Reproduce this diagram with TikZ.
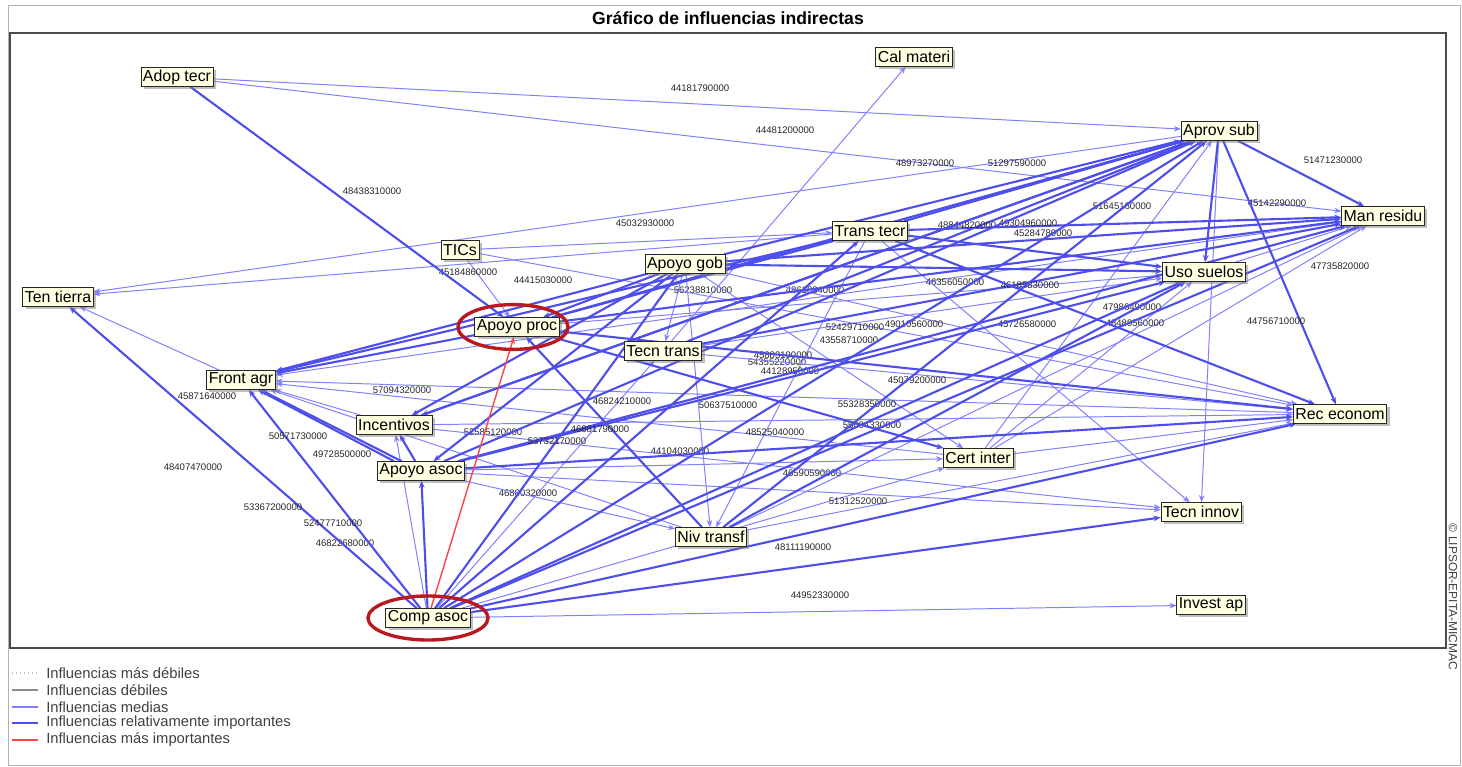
\documentclass[tikz,border=0pt]{standalone}
\usepackage{fontspec}
\setmainfont{Liberation Sans}
\usetikzlibrary{arrows.meta,shadows,backgrounds}
\definecolor{medblue}{RGB}{128,128,255}
\definecolor{relblue}{RGB}{78,78,236}
\definecolor{topred}{RGB}{250,70,70}
\definecolor{boxfill}{RGB}{255,255,226}
\definecolor{hlred}{RGB}{185,25,30}
\tikzset{
	var/.style = {
		shape=rectangle,
		draw=black!85,
		fill=boxfill,
		font=\fontsize{11.3}{12}\selectfont,
		inner xsep=1.5pt,
		inner ysep=1pt,
		minimum height=13.5pt,
		drop shadow={shadow xshift=2pt,shadow yshift=-2pt,fill=black!50}
	},
	med/.style = {->, draw=medblue, line width=0.7pt},
	rel/.style = {->, draw=relblue, line width=1.5pt},
	top/.style = {->, draw=topred, line width=1pt},
	lbl/.style = {font=\fontsize{6.8}{7}\selectfont, inner sep=0pt, text=black!85},
	leg/.style = {anchor=west, font=\fontsize{10.5}{12}\selectfont, inner sep=0pt, text=black!75},
	hl/.style = {draw=hlred, line width=2.4pt}
}

\begin{document}
\begin{tikzpicture}[x=0.025cm, y=-0.025cm, >={Stealth[length=5pt,width=4pt]}]
		\useasboundingbox (0,0) rectangle (1462,767);
		\node[font=\bfseries\fontsize{12.5}{14}\selectfont] (title) at (728,18) {Gráfico de influencias indirectas};
		\node[rotate=-90, font=\fontsize{8.5}{9}\selectfont, text=black!75, inner sep=0pt] (copy) at (1453,597) {© LIPSOR-EPITA-MICMAC};

		\node[var] (adop) at (177,77) {Adop tecr};
		\node[var] (cal) at (914,57) {Cal materi};
		\node[var] (aprov) at (1219,131) {Aprov sub};
		\node[var] (man) at (1383,216) {Man residu};
		\node[var] (trans) at (870,231) {Trans tecr};
		\node[var] (tics) at (460,250) {TICs};
		\node[var] (gob) at (685,264) {Apoyo gob};
		\node[var] (uso) at (1204,272) {Uso suelos};
		\node[var] (ten) at (58,297) {Ten tierra};
		\node[var] (proc) at (517,327) {Apoyo proc};
		\node[var] (tecnt) at (663,351) {Tecn trans};
		\node[var] (front) at (241,380) {Front agr};
		\node[var] (inc) at (394,425) {Incentivos};
		\node[var] (rec) at (1340,414) {Rec econom};
		\node[var] (asoc) at (421,471) {Apoyo asoc};
		\node[var] (cert) at (978,458) {Cert inter};
		\node[var] (innov) at (1201,512) {Tecn innov};
		\node[var] (niv) at (711,537) {Niv transf};
		\node[var] (comp) at (428,618) {Comp asoc};
		\node[var] (invest) at (1211,605) {Invest ap};

		\begin{scope}[on background layer]
		\draw[black!30, line width=0.7pt] (8,5) rectangle (1460,765);
		\draw[black!70, line width=1pt] (10,33) rectangle (1446,648);

		\draw[med] (adop) -- (aprov) node[lbl, at={(700,88)}] {44181790000};
		\draw[med] (adop) -- (man) node[lbl, at={(785,130)}] {44481200000};
		\draw[med] (uso) -- (man) node[lbl, at={(1277,203)}] {45142290000};
		\draw[med] (tics) -- (trans) node[lbl, at={(645,223)}] {45032930000};
		\draw[med] (niv) -- (man) node[lbl, at={(1340,266)}] {47735820000};
		\draw[med] (tics) -- (proc) node[lbl, at={(468,272)}] {45184860000};
		\draw[med] (gob) -- (tecnt) node[lbl, at={(703,290)}] {56238810000};
		\draw[med] (man) -- (front) node[lbl, at={(815,290)}] {48618340000};
		\draw[med] (tecnt) -- (uso) node[lbl, at={(955,282)}] {46356050000};
		\draw[med] (cert) -- (man) node[lbl, at={(1135,323)}] {48489560000};
		\draw[med] (gob) -- (rec) node[lbl, at={(1027,324)}] {45726580000};
		\draw[med] (tics) -- (rec) node[lbl, at={(855,327)}] {52429710000};
		\draw[med] (gob) -- (cert) node[lbl, at={(849,340)}] {43558710000};
		\draw[med] (rec) -- (front) node[lbl, at={(777,362)}] {54355220000};
		\draw[med] (trans) -- (niv) node[lbl, at={(790,371)}] {44128950000};
		\draw[med] (inc) -- (rec) node[lbl, at={(867,404)}] {55328350000};
		\draw[med] (gob) -- (niv) node[lbl, at={(728,405)}] {50637510000};
		\draw[med] (asoc) -- (cert) node[lbl, at={(680,451)}] {44104030000};
		\draw[med] (cert) -- (front) node[lbl, at={(402,390)}] {57094320000};
		\draw[med] (niv) -- (front) node[lbl, at={(493,432)}] {52585120000};
		\draw[med] (comp) -- (tecnt) node[lbl, at={(528,493)}] {46860320000};
		\draw[med] (asoc) -- (innov) node[lbl, at={(812,473)}] {46590590000};
		\draw[med] (comp) -- (invest) node[lbl, at={(820,595)}] {44952330000};
		\draw[med] (comp) -- (inc) node[lbl, at={(345,543)}] {46822680000};
		\draw[med] (inc) -- (front) node[lbl, at={(342,454)}] {49728500000};
		\draw[med] (front) -- (ten) node[lbl, at={(207,396)}] {45871640000};
		\draw[med] (cert) -- (aprov);
		\draw[med] (aprov) -- (ten);
		\draw[med] (trans) -- (ten);
		\draw[med] (aprov) -- (innov);
		\draw[med] (tecnt) -- (cal);
		\draw[med] (niv) -- (rec);
		\draw[med] (asoc) -- (niv);
		\draw[med] (cert) -- (uso);
		\draw[med] (trans) -- (innov);
		\draw[med] (tecnt) -- (rec);
		\draw[med] (proc) -- (uso);
		\draw[med] (inc) -- (innov);
		\draw[med] (cert) -- (rec);
		\draw[med] (comp) -- (cert);

		\draw[rel] (adop) -- (proc) node[lbl, at={(372,191)}] {48438310000};
		\draw[rel] (gob) -- (aprov) node[lbl, at={(925,163)}] {48973270000};
		\draw[rel] (trans) -- (aprov) node[lbl, at={(1017,163)}] {51297590000};
		\draw[rel] (aprov) -- (man) node[lbl, at={(1333,160)}] {51471230000};
		\draw[rel] (trans) -- (man) node[lbl, at={(1122,206)}] {51645160000};
		\draw[rel] (tecnt) -- (aprov) node[lbl, at={(967,225)}] {48844820000};
		\draw[rel] (gob) -- (man) node[lbl, at={(1028,223)}] {49304960000};
		\draw[rel] (trans) -- (uso) node[lbl, at={(1043,233)}] {45284780000};
		\draw[rel] (aprov) -- (rec) node[lbl, at={(1276,321)}] {44756710000};
		\draw[rel] (trans) -- (front) node[lbl, at={(543,280)}] {44415030000};
		\draw[rel] (tecnt) -- (man) node[lbl, at={(1030,285)}] {46185830000};
		\draw[rel] (trans) -- (rec) node[lbl, at={(1132,307)}] {47986490000};
		\draw[rel] (asoc) -- (man) node[lbl, at={(914,324)}] {49010560000};
		\draw[rel] (asoc) -- (uso) node[lbl, at={(783,355)}] {45883190000};
		\draw[rel] (proc) -- (rec) node[lbl, at={(917,380)}] {45079200000};
		\draw[rel] (asoc) -- (rec) node[lbl, at={(872,425)}] {55604330000};
		\draw[rel] (niv) -- (proc) node[lbl, at={(622,401)}] {46824210000};
		\draw[rel] (comp) -- (uso) node[lbl, at={(775,432)}] {48525040000};
		\draw[rel] (comp) -- (trans) node[lbl, at={(600,429)}] {46881790000};
		\draw[rel] (comp) -- (gob) node[lbl, at={(557,441)}] {53732170000};
		\draw[rel] (comp) -- (rec) node[lbl, at={(858,501)}] {51312520000};
		\draw[rel] (comp) -- (innov) node[lbl, at={(803,547)}] {48111190000};
		\draw[rel] (comp) -- (ten) node[lbl, at={(193,467)}] {48407470000};
		\draw[rel] (comp) -- (front) node[lbl, at={(333,523)}] {52477710000};
		\draw[rel] (comp) -- (asoc) node[lbl, at={(273,507)}] {53367200000};
		\draw[rel] (asoc) -- (front) node[lbl, at={(298,436)}] {50571730000};
		\draw[rel] (asoc.160) -- (front.-30);
		\draw[rel] (proc) -- (aprov);
		\draw[rel] (inc) -- (aprov);
		\draw[rel] (asoc) -- (aprov);
		\draw[rel] (comp) -- (aprov);
		\draw[rel] (niv) -- (aprov);
		\draw[rel] (aprov) -- (uso);
		\draw[rel] (asoc) -- (inc);
		\draw[rel] (aprov) -- (inc);
		\draw[rel] (gob) -- (inc);
		\draw[rel] (gob) -- (proc);
		\draw[rel] (trans) -- (proc);
		\draw[rel] (gob) -- (front);
		\draw[rel] (proc) -- (front);
		\draw[rel] (gob) -- (asoc);
		\draw[rel] (niv) -- (uso);
		\draw[rel] (comp) -- (man);
		\draw[rel] (proc) -- (cert);
		\draw[rel] (gob) -- (uso);
		\draw[rel] (proc) -- (man);

		\draw[top] (comp) -- (proc);
		\end{scope}

		\draw[hl] ([xshift=-0.1cm]proc.center) ellipse [x radius=1.375cm, y radius=0.56cm];
		\draw[hl] (comp.center) ellipse [x radius=1.5cm, y radius=0.55cm];

		\draw[dotted, black!25, line width=0.8pt] (12,673) -- (38,673);
		\draw[black!45, line width=0.8pt] (12,690) -- (38,690);
		\draw[medblue, line width=0.8pt] (12,707) -- (38,707);
		\draw[relblue, line width=1.5pt] (12,723) -- (38,723);
		\draw[topred, line width=1.2pt] (12,740) -- (38,740);
		\node[leg] (leg1) at (46,673) {Influencias más débiles};
		\node[leg] (leg2) at (46,690) {Influencias débiles};
		\node[leg] (leg3) at (46,707) {Influencias medias};
		\node[leg] (leg4) at (46,723) {Influencias relativamente importantes};
		\node[leg] (leg5) at (46,740) {Influencias más importantes};
		\end{tikzpicture}
\end{document}
